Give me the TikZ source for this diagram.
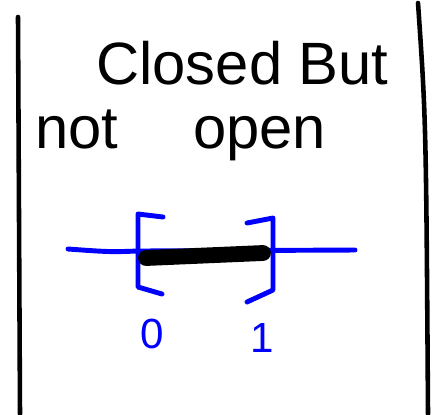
\documentclass[tikz,border=0pt]{standalone}
\usepackage{fontspec}
\setmainfont{Liberation Sans}
\usetikzlibrary{positioning, calc}
\tikzset{
    % Pen strokes
    ink/.style     = {draw=black, line width=2.6pt, line cap=round, line join=round},
    blueink/.style = {draw=blue, line width=2.8pt, line cap=round, line join=round},
    heavy/.style   = {draw=black, line width=9pt, line cap=round},
    % Handwritten text
    script/.style  = {font=\fontsize{34}{40}\selectfont, inner sep=0pt, anchor=base west},
    ticklabel/.style = {font=\fontsize{24}{28}\selectfont, text=blue, inner sep=0pt}
}

\begin{document}
\begin{tikzpicture}[x=0.02cm, y=-0.02cm]
    \useasboundingbox (0,0) rectangle (438,414);

    % frame sides
    \coordinate (leftTop) at (18,17);
    \coordinate (leftBot) at (20,414);
    \coordinate (rightTop) at (418,3);
    \coordinate (rightBot) at (428,414);
    \draw [ink] (leftTop) -- (leftBot);
    \draw [ink] (rightTop) .. controls (426,120) .. (rightBot);

    \node (title) [script] at (96,84) {Closed But};
    \node (subtitle) [script] at (35,148) {not\hspace{1.5cm}open};

    % number line
    \coordinate (lineL) at (68,249);
    \coordinate (lineR) at (355,250);
    \draw [blueink] (lineL) .. controls (110,252) .. (138,251) -- (lineR);

    % brackets at 0 and 1
    \coordinate (zero) at (138,251);
    \coordinate (one) at (273,250);
    \draw [blueink] ($(zero)+(25,-34)$) -- ($(zero)+(0,-37)$) -- ($(zero)+(0,36)$) -- ($(zero)+(24,43)$);
    \draw [blueink] ($(one)+(-26,-27)$) -- ($(one)+(0,-32)$) -- ($(one)+(0,40)$) -- ($(one)+(-26,52)$);

    \draw [heavy] ($(zero)+(8,7)$) -- ($(one)+(-10,3)$);

    \node (zeroLabel) [ticklabel, below=47pt of zero, anchor=center, xshift=8pt] {0};
    \node (oneLabel) [ticklabel, below=50pt of one, anchor=center, xshift=-6pt] {1};
\end{tikzpicture}
\end{document}
